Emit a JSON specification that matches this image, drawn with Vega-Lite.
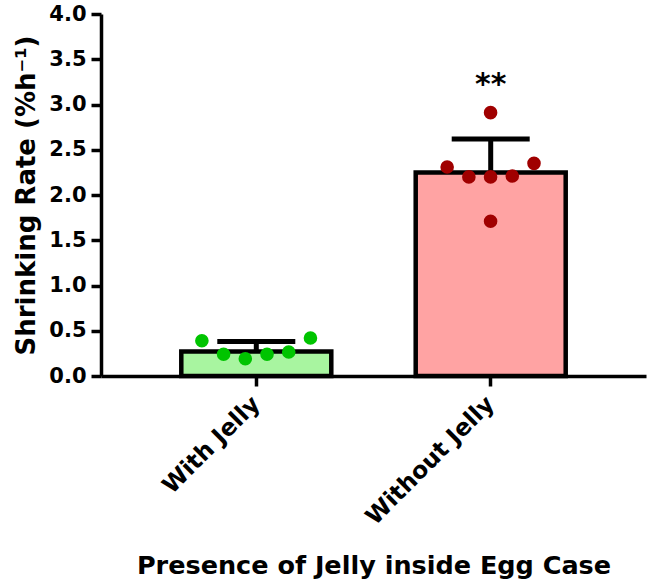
{
  "$schema": "https://vega.github.io/schema/vega-lite/v6.json",
  "autosize": {"type": "none"},
  "padding": {"left": 101, "top": 14, "right": 4, "bottom": 211},
  "width": 545,
  "height": 362,
  "background": "white",
  "config": {
    "view": {"stroke": null},
    "font": "DejaVu Sans",
    "axis": {
      "domainColor": "black",
      "domainWidth": 3.5,
      "tickColor": "black",
      "tickWidth": 3.5,
      "tickSize": 10,
      "grid": false,
      "labelColor": "black",
      "titleColor": "black",
      "labelFont": "DejaVu Sans",
      "titleFont": "DejaVu Sans",
      "labelFontWeight": "bold",
      "titleFontWeight": "bold"
    }
  },
  "datasets": {
    "summary": [
      {"group": "With Jelly", "mean": 0.27, "upper": 0.38},
      {"group": "Without Jelly", "mean": 2.25, "upper": 2.62, "sig": "**", "sigY": 3.12}
    ],
    "points": [
      {"group": "With Jelly", "slot": -2.5, "value": 0.39},
      {"group": "With Jelly", "slot": -1.5, "value": 0.24},
      {"group": "With Jelly", "slot": -0.5, "value": 0.19},
      {"group": "With Jelly", "slot": 0.5, "value": 0.24},
      {"group": "With Jelly", "slot": 1.5, "value": 0.265},
      {"group": "With Jelly", "slot": 2.5, "value": 0.42},
      {"group": "Without Jelly", "slot": 0, "value": 2.91},
      {"group": "Without Jelly", "slot": -2, "value": 2.31},
      {"group": "Without Jelly", "slot": -1, "value": 2.2},
      {"group": "Without Jelly", "slot": 0, "value": 2.2},
      {"group": "Without Jelly", "slot": 1, "value": 2.21},
      {"group": "Without Jelly", "slot": 2, "value": 2.35},
      {"group": "Without Jelly", "slot": 0, "value": 1.71}
    ]
  },
  "encoding": {
    "x": {
      "field": "group",
      "type": "nominal",
      "sort": ["With Jelly", "Without Jelly"],
      "scale": {"paddingInner": 0.359, "paddingOuter": 0.342},
      "axis": {
        "title": "Presence of Jelly inside Egg Case",
        "labelAngle": -45,
        "labelAlign": "right",
        "labelBaseline": "middle",
        "labelFontSize": 23.5,
        "labelPadding": 14,
        "titleFontSize": 25.5,
        "titleBaseline": "alphabetic",
        "titleY": 197
      }
    }
  },
  "layer": [
    {
      "data": {"name": "summary"},
      "mark": {"type": "bar", "stroke": "black", "strokeWidth": 4.5, "width": 150},
      "encoding": {
        "y": {
          "field": "mean",
          "type": "quantitative",
          "scale": {"domain": [0, 4], "nice": false},
          "axis": {
            "title": "Shrinking Rate (%h⁻¹)",
            "values": [0, 0.5, 1, 1.5, 2, 2.5, 3, 3.5, 4],
            "format": ".1f",
            "labelFontSize": 21,
            "labelPadding": 5,
            "titleFontSize": 26,
            "titleBaseline": "alphabetic",
            "titleX": -67
          }
        },
        "fill": {
          "field": "group",
          "type": "nominal",
          "scale": {"domain": ["With Jelly", "Without Jelly"], "range": ["#a8f5a0", "#ffa3a3"]},
          "legend": null
        }
      }
    },
    {
      "data": {"name": "summary"},
      "mark": {"type": "rule", "color": "black", "strokeWidth": 5},
      "encoding": {
        "y": {"field": "mean", "type": "quantitative"},
        "y2": {"field": "upper"}
      }
    },
    {
      "data": {"name": "summary"},
      "mark": {"type": "tick", "color": "black", "size": 78, "thickness": 5, "opacity": 1},
      "encoding": {
        "y": {"field": "upper", "type": "quantitative"}
      }
    },
    {
      "data": {"name": "points"},
      "mark": {"type": "point", "filled": true, "shape": "circle", "size": 185, "opacity": 1},
      "encoding": {
        "xOffset": {"field": "slot", "type": "quantitative", "scale": {"domain": [-3.5, 3.5], "range": [-1, 151]}},
        "y": {"field": "value", "type": "quantitative"},
        "color": {
          "field": "group",
          "type": "nominal",
          "scale": {"domain": ["With Jelly", "Without Jelly"], "range": ["#00c400", "#a00000"]},
          "legend": null
        }
      }
    },
    {
      "data": {"name": "summary"},
      "transform": [{"filter": "datum.sig != null"}],
      "mark": {"type": "text", "fontSize": 30, "fontWeight": "bold", "color": "black", "baseline": "alphabetic", "align": "center"},
      "encoding": {
        "y": {"field": "sigY", "type": "quantitative"},
        "text": {"field": "sig"}
      }
    }
  ],
  "resolve": {"scale": {"color": "independent", "fill": "independent"}}
}
